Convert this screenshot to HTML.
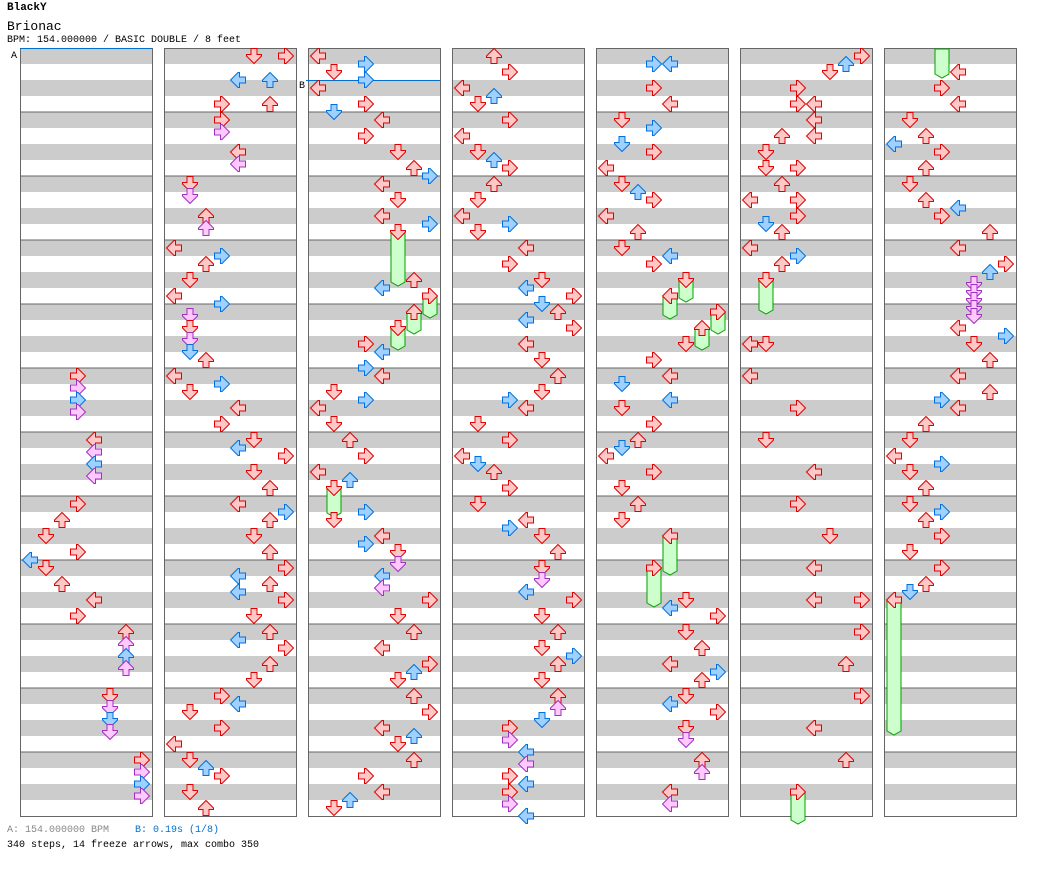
<!DOCTYPE html>
<html><head><meta charset="utf-8"><style>
body{margin:0;background:#fff;width:1040px;height:876px;overflow:hidden;position:relative;font-family:"Liberation Mono",monospace;}
.t{position:absolute;white-space:pre;color:#000;}
</style></head><body>
<div class="t" style="left:7px;top:2px;font-size:11px;font-weight:bold;">BlackY</div>
<div class="t" style="left:7px;top:19px;font-size:13px;">Brionac</div>
<div class="t" style="left:7px;top:35px;font-size:10px;">BPM: 154.000000 / BASIC DOUBLE / 8 feet</div>
<div class="t" style="left:7px;top:825px;font-size:10px;color:#888;">A: 154.000000 BPM</div>
<div class="t" style="left:135px;top:825px;font-size:10px;color:#0070d0;">B: 0.19s (1/8)</div>
<div class="t" style="left:7px;top:840px;font-size:10px;">340 steps, 14 freeze arrows, max combo 350</div>
<svg id="s" width="1040" height="876" style="position:absolute;left:0;top:0;" xmlns="http://www.w3.org/2000/svg"></svg>
<script>
var S=document.getElementById('s');var h='';
for(var c=0;c<7;c++){var x0=20+144*c;
 for(var m=0;m<12;m++){var y=48+64*m;
  h+='<rect x="'+x0+'" y="'+y+'" width="132" height="16" fill="#cccccc"/><rect x="'+x0+'" y="'+(y+32)+'" width="132" height="16" fill="#cccccc"/>';
  if(m>0)h+='<line x1="'+x0+'" y1="'+y+'" x2="'+(x0+132)+'" y2="'+y+'" stroke="#666" stroke-width="1"/>';}
 h+='<rect x="'+(x0+0.5)+'" y="48.5" width="132" height="768" fill="none" stroke="#666" stroke-width="1"/>';}
h+='<line x1="20" y1="48.5" x2="152" y2="48.5" stroke="#0070d0"/><text x="11" y="58" font-family="Liberation Mono" font-size="10">A</text>';
h+='<line x1="306" y1="80.5" x2="440" y2="80.5" stroke="#0070d0"/><text x="299" y="88" font-family="Liberation Mono" font-size="10">B</text>';
var D=[
[0,[[376,3,'r'],[388,3,'p'],[400,3,'b'],[412,3,'p'],[440,4,'r'],[452,4,'p'],[464,4,'b'],[476,4,'p'],[504,3,'r'],[520,2,'r'],[536,1,'r'],[552,3,'r'],[560,0,'b'],[568,1,'r'],[584,2,'r'],[600,4,'r'],[616,3,'r'],[632,6,'r'],[644,6,'p'],[656,6,'b'],[668,6,'p'],[696,5,'r'],[708,5,'p'],[720,5,'b'],[732,5,'p'],[760,7,'r'],[772,7,'p'],[784,7,'b'],[796,7,'p']]],
[1,[[56,5,'r'],[56,7,'r'],[80,4,'b'],[80,6,'b'],[104,3,'r'],[104,6,'r'],[120,3,'r'],[132,3,'p'],[152,4,'r'],[164,4,'p'],[184,1,'r'],[196,1,'p'],[216,2,'r'],[228,2,'p'],[248,0,'r'],[256,3,'b'],[264,2,'r'],[280,1,'r'],[296,0,'r'],[304,3,'b'],[316,1,'p'],[328,1,'r'],[340,1,'p'],[352,1,'b'],[360,2,'r'],[376,0,'r'],[384,3,'b'],[392,1,'r'],[408,4,'r'],[424,3,'r'],[440,5,'r'],[448,4,'b'],[456,7,'r'],[472,5,'r'],[488,6,'r'],[504,4,'r'],[512,7,'b'],[520,6,'r'],[536,5,'r'],[552,6,'r'],[568,7,'r'],[576,4,'b'],[584,6,'r'],[592,4,'b'],[600,7,'r'],[616,5,'r'],[632,6,'r'],[640,4,'b'],[648,7,'r'],[664,6,'r'],[680,5,'r'],[696,3,'r'],[704,4,'b'],[712,1,'r'],[728,3,'r'],[744,0,'r'],[760,1,'r'],[768,2,'b'],[776,3,'r'],[792,1,'r'],[808,2,'r']]],
[2,[[56,0,'r'],[64,3,'b'],[72,1,'r'],[80,3,'b'],[88,0,'r'],[104,3,'r'],[112,1,'b'],[120,4,'r'],[136,3,'r'],[152,5,'r'],[168,6,'r'],[176,7,'b'],[184,4,'r'],[200,5,'r'],[216,4,'r'],[224,7,'b'],[232,5,'r',286],[280,6,'r'],[288,4,'b'],[296,7,'r',318],[312,6,'r',334],[328,5,'r',350],[344,3,'r'],[352,4,'b'],[368,3,'b'],[376,4,'r'],[392,1,'r'],[400,3,'b'],[408,0,'r'],[424,1,'r'],[440,2,'r'],[456,3,'r'],[472,0,'r'],[480,2,'b'],[488,1,'r',517],[520,1,'r'],[512,3,'b'],[536,4,'r'],[544,3,'b'],[552,5,'r'],[564,5,'p'],[576,4,'b'],[588,4,'p'],[600,7,'r'],[616,5,'r'],[632,6,'r'],[648,4,'r'],[664,7,'r'],[672,6,'b'],[680,5,'r'],[696,6,'r'],[712,7,'r'],[728,4,'r'],[736,6,'b'],[744,5,'r'],[760,6,'r'],[776,3,'r'],[792,4,'r'],[800,2,'b'],[808,1,'r']]],
[3,[[56,2,'r'],[72,3,'r'],[88,0,'r'],[96,2,'b'],[104,1,'r'],[120,3,'r'],[136,0,'r'],[152,1,'r'],[160,2,'b'],[168,3,'r'],[184,2,'r'],[200,1,'r'],[216,0,'r'],[224,3,'b'],[232,1,'r'],[248,4,'r'],[264,3,'r'],[280,5,'r'],[288,4,'b'],[296,7,'r'],[304,5,'b'],[312,6,'r'],[320,4,'b'],[328,7,'r'],[344,4,'r'],[360,5,'r'],[376,6,'r'],[392,5,'r'],[400,3,'b'],[408,4,'r'],[424,1,'r'],[440,3,'r'],[456,0,'r'],[464,1,'b'],[472,2,'r'],[488,3,'r'],[504,1,'r'],[520,4,'r'],[528,3,'b'],[536,5,'r'],[552,6,'r'],[568,5,'r'],[580,5,'p'],[592,4,'b'],[600,7,'r'],[616,5,'r'],[632,6,'r'],[648,5,'r'],[656,7,'b'],[664,6,'r'],[680,5,'r'],[696,6,'r'],[708,6,'p'],[720,5,'b'],[728,3,'r'],[740,3,'p'],[752,4,'b'],[764,4,'p'],[776,3,'r'],[784,4,'b'],[792,3,'r'],[804,3,'p'],[816,4,'b']]],
[4,[[64,3,'b'],[64,4,'b'],[88,3,'r'],[104,4,'r'],[120,1,'r'],[128,3,'b'],[144,1,'b'],[152,3,'r'],[168,0,'r'],[184,1,'r'],[192,2,'b'],[200,3,'r'],[216,0,'r'],[232,2,'r'],[248,1,'r'],[256,4,'b'],[264,3,'r'],[280,5,'r',302],[296,4,'r',319],[312,7,'r',334],[328,6,'r',350],[344,5,'r'],[360,3,'r'],[376,4,'r'],[384,1,'b'],[400,4,'b'],[408,1,'r'],[424,3,'r'],[440,2,'r'],[448,1,'b'],[456,0,'r'],[472,3,'r'],[488,1,'r'],[504,2,'r'],[520,1,'r'],[536,4,'r',575],[568,3,'r',607],[600,5,'r'],[608,4,'b'],[616,7,'r'],[632,5,'r'],[648,6,'r'],[664,4,'r'],[672,7,'b'],[680,6,'r'],[696,5,'r'],[704,4,'b'],[712,7,'r'],[728,5,'r'],[740,5,'p'],[760,6,'r'],[772,6,'p'],[792,4,'r'],[804,4,'p']]],
[5,[[56,7,'r'],[64,6,'b'],[72,5,'r'],[88,3,'r'],[104,3,'r'],[104,4,'r'],[120,4,'r'],[136,2,'r'],[136,4,'r'],[152,1,'r'],[168,1,'r'],[168,3,'r'],[184,2,'r'],[200,0,'r'],[200,3,'r'],[216,3,'r'],[224,1,'b'],[232,2,'r'],[248,0,'r'],[256,3,'b'],[264,2,'r'],[280,1,'r',314],[344,0,'r'],[344,1,'r'],[376,0,'r'],[408,3,'r'],[440,1,'r'],[472,4,'r'],[504,3,'r'],[536,5,'r'],[568,4,'r'],[600,4,'r'],[600,7,'r'],[632,7,'r'],[664,6,'r'],[696,7,'r'],[728,4,'r'],[760,6,'r'],[792,3,'r',824]]],
[6,[[72,4,'r'],[88,3,'r'],[104,4,'r'],[120,1,'r'],[136,2,'r'],[144,0,'b'],[152,3,'r'],[168,2,'r'],[184,1,'r'],[200,2,'r'],[208,4,'b'],[216,3,'r'],[232,6,'r'],[248,4,'r'],[264,7,'r'],[272,6,'b'],[284,5,'p'],[292,5,'p'],[300,5,'p'],[308,5,'p'],[316,5,'p'],[328,4,'r'],[336,7,'b'],[344,5,'r'],[360,6,'r'],[376,4,'r'],[392,6,'r'],[400,3,'b'],[408,4,'r'],[424,2,'r'],[440,1,'r'],[456,0,'r'],[464,3,'b'],[472,1,'r'],[488,2,'r'],[504,1,'r'],[512,3,'b'],[520,2,'r'],[536,3,'r'],[552,1,'r'],[568,3,'r'],[584,2,'r'],[592,1,'b'],[600,0,'r',735]]]
];
var col={r:['#ffc8c8','#e00000'],b:['#a0d0ff','#0070e0'],p:['#ffc8ff','#a030c0']};
var rot=[90,0,180,-90];
function fr(cx,y1,y2){return '<path d="M'+(cx-7)+','+y1+' L'+(cx+7)+','+y1+' L'+(cx+7)+','+(y2-4)+' L'+cx+','+y2+' L'+(cx-7)+','+(y2-4)+' Z" fill="#ccffcc" stroke="#00a000" stroke-width="1"/>';}
h+=fr(884+10+16*3,49,78);
var ar='';
D.forEach(function(cd){var x0=20+144*cd[0];cd[1].forEach(function(a){
 var cx=x0+10+16*a[1],cy=a[0];
 if(a[3])h+=fr(cx,cy,a[3]);
 var cc=col[a[2]];
 ar+='<path transform="translate('+cx+','+cy+') rotate('+rot[a[1]%4]+')" d="M-3,-7.5 L3,-7.5 L3,-1.5 L7.5,-1.5 L7.5,0 L0,7.5 L-7.5,0 L-7.5,-1.5 L-3,-1.5 Z" fill="'+cc[0]+'" stroke="'+cc[1]+'" stroke-width="1"/>';
});});
S.innerHTML=h+ar;
</script>
</body></html>
